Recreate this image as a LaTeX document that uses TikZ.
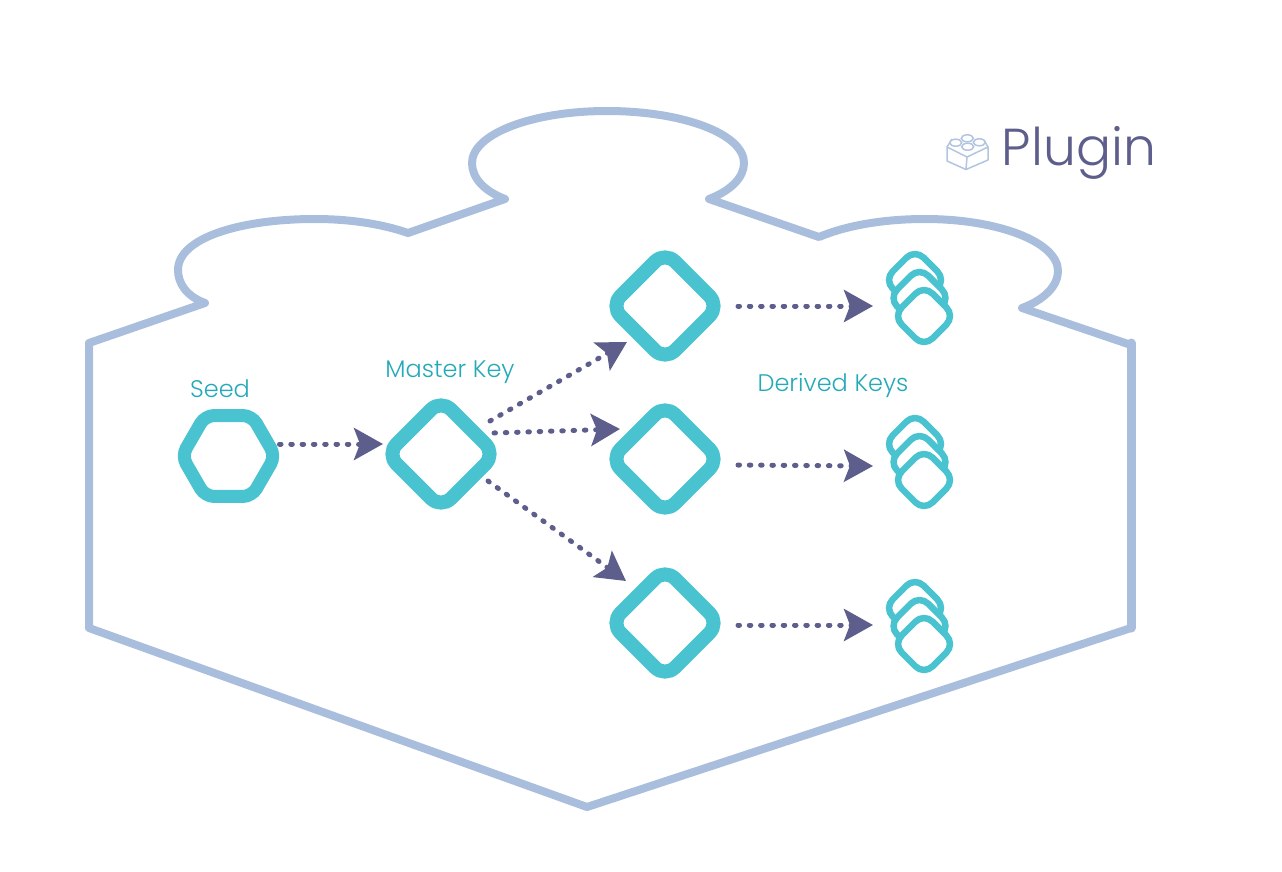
\documentclass[tikz,border=0pt]{standalone}
\usepackage{fontspec}
\setmainfont{Poppins Light}
\usepackage{xcolor}
\usetikzlibrary{shapes.geometric}
\usetikzlibrary{arrows.meta}
\definecolor{cloudblue}{HTML}{A9BEDD}
\definecolor{keyteal}{HTML}{4AC3D0}
\definecolor{labelteal}{HTML}{24A9B8}
\definecolor{dotpurple}{HTML}{5D5E8B}
\tikzset{
  keyarrow/.style={dotpurple, line width=5pt, line cap=round, dash pattern=on 1.5pt off 9.8pt,
    -{Stealth[length=29pt,width=32pt,inset=6pt]}},
  bigkey/.style={diamond, draw=keyteal, line width=14pt, rounded corners=14pt, inner sep=0pt, minimum width=114.6pt, minimum height=114.6pt},
  smallkey/.style={diamond, draw=keyteal, fill=white, line width=6.5pt, rounded corners=12pt, inner sep=0pt, minimum width=64.5pt, minimum height=64.5pt},
  seedkey/.style={regular polygon, regular polygon sides=6, draw=keyteal, line width=13pt, rounded corners=9pt, inner sep=0pt, minimum size=93.5pt},
  keylabel/.style={labelteal, font=\fontsize{24}{28}\selectfont}
}

\begin{document}
\begin{tikzpicture}[x=1pt,y=-1pt]
\useasboundingbox (0,0) rectangle (1282,872);
% outline
\draw [cloudblue, line width=8pt, line join=round, line cap=round] (89,628) -- (89,343) -- (205,303)
  .. controls (186,296) and (178,283) .. (178,270)
  .. controls (178,238) and (240,219) .. (315,219)
  .. controls (350,219) and (382,224) .. (408,233) -- (505,199)
  .. controls (484,191) and (472,178) .. (472,163)
  .. controls (472,134) and (532,111) .. (607,111)
  .. controls (683,111) and (744,134) .. (744,163)
  .. controls (744,178) and (730,191) .. (709,199) -- (819,237)
  .. controls (845,226) and (882,219) .. (925,219)
  .. controls (998,219) and (1058,242) .. (1058,271)
  .. controls (1058,286) and (1044,300) .. (1022,308) -- (1131,345) -- (1131,628) -- (587,807) -- cycle;
\draw [cloudblue, line width=9pt, line cap=round] (1131,343) -- (1131,628);
% plugin icon
\draw [cloudblue!90, line width=1.5pt, line join=round] (947,147) -- (967,157) -- (988,147) -- (988,160) -- (966,169.5) -- (947,161) -- cycle;
\draw [cloudblue!90, line width=1.5pt] (967,157) -- (966,169.5);
\draw [cloudblue!90, line width=1.5pt] (952,139) -- (947,147);
\draw [cloudblue!90, line width=1.5pt] (984,140) -- (988,147);
\draw [cloudblue!90, line width=1.5pt, fill=white] (967.3,138.3) ellipse (6 and 3.5);
\draw [cloudblue!90, line width=1.5pt, fill=white] (955.7,142.7) ellipse (6 and 3.5);
\draw [cloudblue!90, line width=1.5pt, fill=white] (979.3,142.3) ellipse (6 and 3.5);
\draw [cloudblue!90, line width=1.5pt, fill=white] (967.7,146.7) ellipse (6 and 3.5);
\node (plugin) [dotpurple, font=\fontsize{52}{58}\selectfont] at (1079,153) {Plugin};
% keys
\node (seed) [seedkey] at (228.5,456) {};
\node (master) [bigkey] at (441,454) {};
\node (topkey) [bigkey] at (665,306) {};
\node (midkey) [bigkey] at (665,459) {};
\node (lowkey) [bigkey] at (665,623) {};
\node (topa) [smallkey] at (915,280) {};
\node (topb) [smallkey] at (919.5,298) {};
\node (topc) [smallkey] at (924,316) {};
\node (mida) [smallkey] at (915,444) {};
\node (midb) [smallkey] at (919.5,462) {};
\node (midc) [smallkey] at (924,480) {};
\node (lowa) [smallkey] at (915,608) {};
\node (lowb) [smallkey] at (919.5,626) {};
\node (lowc) [smallkey] at (924,644) {};
\node (seedlabel) [keylabel] at (220,389) {Seed};
\node (masterlabel) [keylabel] at (450,372) {Master Key};
\node (derivedlabel) [keylabel] at (833,386) {Derived Keys};
% arrows
\draw [keyarrow] ([shift={(51,-12)}]seed.center) -- ([shift={(-58,-10)}]master.center);
\draw [keyarrow] ([shift={(49,-33)}]master.center) -- ([shift={(-38,36)}]topkey.center);
\draw [keyarrow] ([shift={(53,-21)}]master.center) -- ([shift={(-45,-30)}]midkey.center);
\draw [keyarrow] ([shift={(47,27)}]master.center) -- ([shift={(-39,-42)}]lowkey.center);
\draw [keyarrow] ([shift={(73,0)}]topkey.center) -- ([shift={(-46.5,8)}]topb.center);
\draw [keyarrow] ([shift={(73,6)}]midkey.center) -- ([shift={(-46.5,4)}]midb.center);
\draw [keyarrow] ([shift={(73,2)}]lowkey.center) -- ([shift={(-46.5,-1)}]lowb.center);
\end{tikzpicture}
\end{document}
